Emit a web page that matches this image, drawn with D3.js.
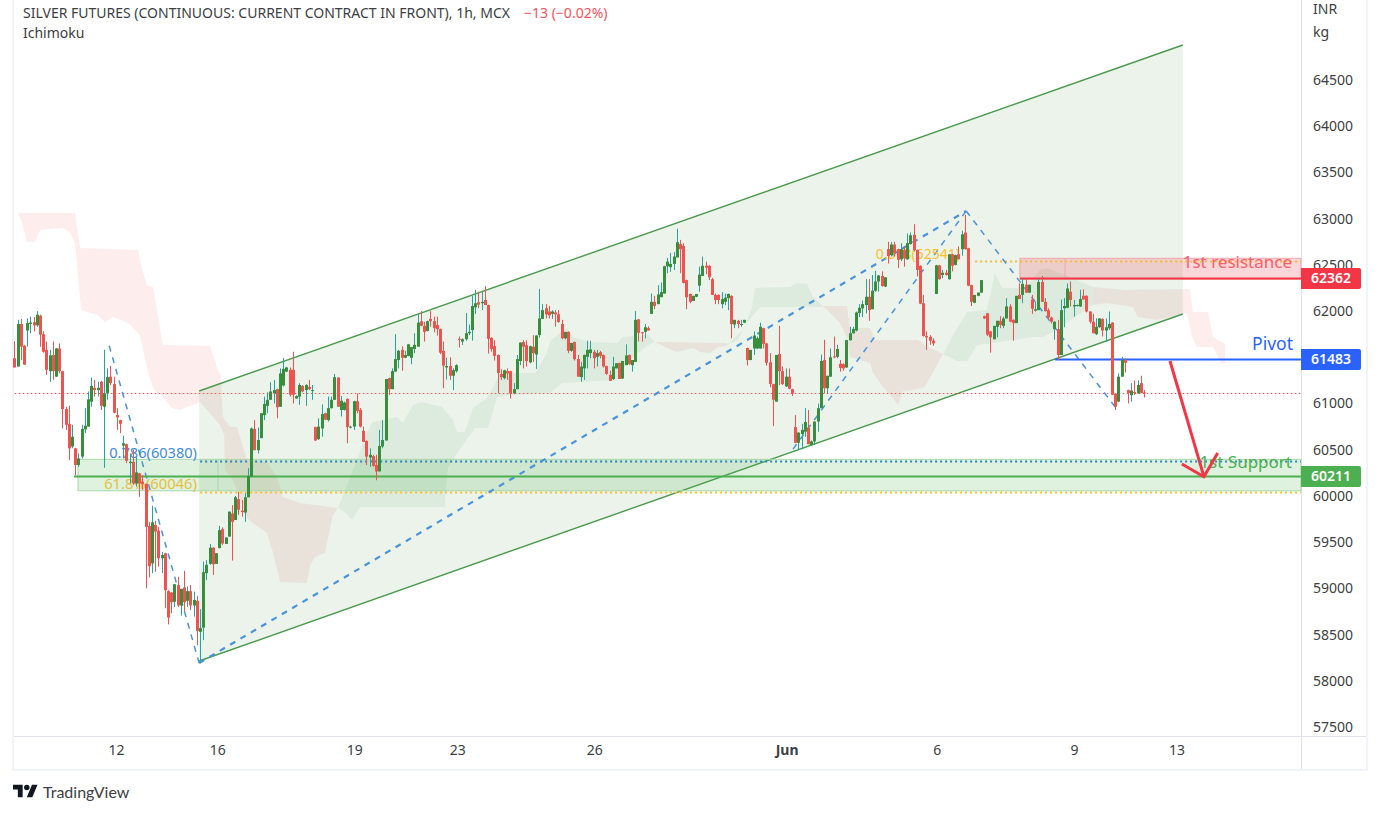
<!DOCTYPE html>
<html>
<head>
<meta charset="utf-8">
<script src="https://cdn.jsdelivr.net/npm/d3@7"></script>
<style>
  html, body { margin: 0; padding: 0; background: #fff; overflow: hidden; }
  text { font-family: "Noto Sans", sans-serif; }
</style>
</head>
<body>
<script>
// candles, [open, high, low, close]
const seg1 = [[61490,61675,61390,61390],[61400,61905,61400,61860],[61860,61915,61470,61615],[61625,61635,61420,61420],[61790,61920,61615,61870],[61860,61940,61760,61875],[61880,61935,61780,61845],[61845,62000,61830,61960],[61950,61960,61615,61745],[61750,61780,61550,61560],[61580,61670,61310,61365],[61350,61580,61235,61520],[61525,61670,61255,61350],[61290,61600,61290,61595],[61595,61650,61325,61350],[61350,61350,60730,60940],[60940,60965,60715,60770],[60780,60975,60390,60515],[60535,60770,60515,60640],[60515,60520,60225,60335],[60335,60460,60315,60405],[60425,60770,60405,60725],[60720,60950,60680,60760],[60750,61130,60750,61045],[61020,61280,60965,61190]]
const seg2 = [[61170,61255,61075,61145],[61145,61235,61075,61170],[61235,61245,60930,60975],[60965,61580,60305,61110],[61110,61380,61040,61285],[61290,61405,61200,61220],[61210,61290,60895,60900],[60875,60950,60715,60850],[60820,60825,60680,60780],[60545,60650,60405,60570],[60560,60565,60355,60380],[60355,60460,60135,60370],[60370,60500,60120,60135],[60135,60425,60100,60255],[60245,60250,59990,60135],[60155,60225,60065,60130],[60130,60135,59000,59665],[59675,59720,59120,59240],[59270,59895,59165,59715],[59685,59730,59180,59615],[59625,59665,59235,59325],[59325,59395,59165,59360],[59380,59385,58785,58980],[58970,58980,58610,58685],[58955,58960,58730,58850]]
const seg3 = [[58855,59045,58800,59045],[59035,59125,58800,58815],[58815,58995,58705,58995],[59010,59190,58750,58850],[58865,59020,58800,58970],[58970,59035,58765,58815],[58815,58965,58695,58875],[58865,58920,58385,58540],[58530,58775,58190,58570],[58575,59290,58440,59175],[59165,59305,59090,59255],[59265,59480,59255,59440],[59440,59445,59145,59260],[59265,59380,59265,59380],[59435,59675,59435,59630],[59640,59660,59470,59485],[59480,59550,59480,59550],[59560,59830,59560,59830],[59810,59900,59300,59720],[59740,60000,59740,59985],[59965,60045,59795,59850],[59840,59955,59775,59825],[59820,60030,59720,59985],[59985,60300,59985,60215],[60210,60740,60210,60730]]
const seg4 = [[60725,60820,60495,60495],[60495,60740,60460,60605],[60625,60895,60625,60895],[60875,61075,60820,60995],[60975,61120,60895,61040],[61040,61230,61040,61130],[61110,61255,61000,61145],[61155,61160,60840,60960],[60965,61380,60965,61325],[61195,61490,61185,61375],[61345,61395,61340,61390],[61365,61390,61075,61095],[61365,61560,61000,61095],[61055,61090,61050,61080],[61075,61220,60985,61200],[61190,61200,61120,61130],[61145,61210,60975,61200],[61180,61255,61145,61155],[61140,61200,61040,61145],[60745,60750,60595,60600],[60615,60840,60605,60750],[60730,60990,60640,60885],[60895,60900,60820,60825],[60820,61075,60805,60950],[60950,61075,60945,61040]]
const seg5 = [[61040,61320,61040,61285],[61280,61285,60965,60965],[60930,61080,60860,61030],[60930,61020,60925,61010],[61050,61055,60570,60745],[60745,60760,60730,60750],[60750,61030,60715,61025],[61025,61110,60895,60920],[60930,60950,60740,60750],[60705,60750,60585,60585],[60595,60600,60335,60425],[60415,60515,60315,60445],[60430,60445,60315,60325],[60335,60445,60170,60265],[60265,60715,60265,60540],[60535,60820,60515,60605],[60600,61265,60600,61265],[61275,61280,61090,61155],[61155,61380,61155,61350],[61345,61750,61345,61480],[61470,61580,61380,61570],[61580,61620,61355,61495],[61495,61570,61490,61525],[61515,61645,61510,61640],[61495,61610,61425,61610]]
const seg6 = [[61590,61760,61545,61635],[61615,61965,61615,61875],[61890,62000,61835,61840],[61840,61885,61670,61775],[61785,61895,61780,61890],[61915,62000,61830,61890],[61890,61940,61770,61815],[61850,61940,61735,61805],[61805,61810,61535,61550],[61570,61670,61165,61410],[61390,61495,61260,61405],[61405,61500,61255,61300],[61300,61380,61145,61360],[61350,61425,61335,61415],[61700,61725,61607,61695],[61670,61705,61633,61695],[61695,61980,61680,61760],[61760,61855,61740,61775],[61795,62165,61680,62055],[62040,62230,61970,62085],[62095,62210,62030,62070],[62085,62210,62010,62100],[62120,62270,62065,62065],[62065,62070,61540,61700],[61710,61715,61560,61590]]
const seg7 = [[61620,61685,61465,61515],[61525,61530,61110,61330],[61320,61370,61255,61285],[61275,61365,61260,61360],[61350,61380,61255,61325],[61350,61355,61055,61110],[61110,61220,61100,61155],[61155,61525,61155,61480],[61460,61660,61415,61660],[61665,61685,61380,61615],[61630,61685,61400,61460],[61445,61625,61435,61620],[61615,61740,61450,61545],[61530,61740,61375,61735],[61740,62240,61715,61920],[61915,62075,61915,62010],[62030,62075,61920,61965],[61995,62055,61920,61955],[61970,62010,61915,61995],[61985,62010,61830,61965],[61965,62010,61875,61880],[61860,61905,61695,61705],[61705,61775,61695,61775],[61775,61780,61545,61570],[61570,61655,61560,61655]]
const seg8 = [[61665,61670,61465,61480],[61480,61525,61290,61290],[61285,61450,61235,61400],[61380,61530,61255,61525],[61505,61680,61380,61580],[61545,61680,61490,61585],[61560,61580,61380,61490],[61505,61580,61400,61545],[61555,61570,61490,61515],[61525,61530,61390,61400],[61405,61410,61310,61320],[61310,61355,61245,61245],[61265,61505,61255,61400],[61380,61435,61380,61435],[61440,61440,61265,61265],[61270,61460,61265,61460],[61415,61640,61415,61520],[61525,61530,61420,61425],[61415,61470,61345,61470],[61450,62000,61450,61905],[61910,61915,61670,61765],[61770,61775,61670,61760],[61775,61860,61705,61825],[61815,61835,61790,61790],[61970,62190,61970,62100]]
const seg9 = [[62100,62165,62020,62055],[62075,62280,62075,62180],[62150,62310,62150,62205],[62190,62490,62190,62485],[62485,62575,62410,62535],[62475,62630,62425,62510],[62510,62640,62445,62590],[62580,62890,62580,62745],[62725,62770,62410,62670],[62705,62735,62300,62305],[62335,62340,62020,62150],[62185,62190,62085,62100],[62110,62165,62110,62165],[62155,62185,62150,62185],[62275,62480,62210,62395],[62380,62590,62380,62490],[62490,62535,62400,62470],[62490,62495,62335,62365],[62345,62360,62175,62175],[62175,62190,62075,62120],[62175,62180,62075,62120],[62075,62205,62030,62130],[62100,62190,62065,62145],[62140,62190,62010,62185],[62165,62170,61705,61860]]
const seg10 = [[61855,61905,61815,61905],[61895,61905,61815,61860],[61855,61905,61830,61860],[61875,61905,61870,61905],[61600,61605,61410,61470],[61470,61580,61470,61580],[61595,61780,61525,61735],[61595,61725,61590,61705],[61595,61875,61595,61830],[61815,61820,61595,61645],[61650,61655,61410,61440],[61445,61545,61175,61210],[61210,61215,60755,61040],[61020,61525,61020,61525],[61535,61840,61200,61350],[61350,61400,61200,61210],[61185,61380,61180,61290],[61290,61380,61155,61160],[61155,61160,61080,61110],[60745,60875,60570,60575],[60575,60690,60495,60685],[60670,60780,60505,60715],[60695,60950,60640,60800],[60740,60930,60560,60560],[60550,60600,60540,60590]]
const seg11 = [[60590,60805,60550,60805],[60805,61000,60695,60950],[60950,61530,60950,61460],[61470,61690,61110,61165],[61165,61300,61110,61300],[61290,61595,61290,61500],[61510,61725,61490,61500],[61505,61635,61490,61590],[61430,61470,61345,61385],[61425,61435,61355,61380],[61390,61690,61385,61685],[61685,61830,61680,61760],[61760,61830,61755,61805],[61790,61995,61780,61985],[61980,62075,61935,62035],[62030,62115,61935,62075],[62065,62345,61975,62155],[62155,62345,61895,62010],[62020,62390,62020,62220],[62220,62435,62210,62320],[62320,62390,62210,62385],[62380,62430,62265,62270],[62265,62365,62260,62365],[62670,62750,62515,62595],[62605,62750,62590,62720]]
const seg12 = [[62720,62750,62590,62625],[62670,62675,62465,62555],[62560,62735,62540,62670],[62660,62695,62480,62570],[62560,62840,62555,62735],[62725,62850,62720,62820],[62825,62940,62645,62660],[62660,62665,62375,62445],[62490,62495,62075,62080],[62085,62175,61725,61730],[61730,61780,61580,61715],[61720,61740,61635,61680],[61680,61705,61625,61650],[62185,62500,62185,62495],[62495,62500,62340,62345],[62390,62445,62355,62415],[62415,62445,62385,62390],[62345,62615,62340,62615],[62615,62620,62430,62490],[62500,62610,62495,62605],[62615,62700,62560,62560],[62670,62870,62600,62830],[62850,63040,62665,62670],[62680,62685,62270,62275],[62280,62285,62055,62100]]
const seg13 = [[62090,62175,62085,62175],[62165,62200,62160,62200],[62200,62335,62195,62335],[61945,61950,61915,61920],[61975,61980,61730,61745],[61780,61785,61550,61715],[61695,61840,61695,61840],[61830,61895,61715,61895],[61895,61945,61815,61850],[61840,61940,61815,61920],[61920,62140,61920,62050],[62050,62075,61880,61885],[61905,61910,61680,61870],[61870,62165,61870,62165],[62175,62300,62130,62130],[62175,62355,62085,62295],[62285,62355,62195,62200],[62200,62285,62195,62285],[62125,62175,61970,62025],[62005,62100,61995,62020],[62010,62350,62010,62315],[62315,62380,62100,62100],[62100,62140,61995,62000],[62010,62030,61905,61930],[61930,61940,61865,61885]]
const seg14 = [[61805,61890,61690,61885],[61805,61905,61470,61525],[61525,62125,61525,62010],[62030,62140,61825,62055],[62035,62300,62035,62245],[62210,62320,62050,62120],[62050,62120,61940,62065],[62055,62070,62050,62065],[62050,62230,62045,62130],[62165,62235,62125,62125],[62165,62170,61985,61995],[61995,62000,61865,61885],[61885,61970,61760,61760],[61750,61920,61740,61830],[61825,61925,61820,61920],[61915,61920,61725,61790],[61790,61920,61670,61825],[61815,61995,61795,61860],[61875,61880,61090,61095],[61105,61110,60930,60965],[61020,61325,61020,61290],[61290,61505,61290,61470],[61470,61490,61335,61440],[61145,61150,61000,61115],[61090,61220,61020,61140]]
const seg15 = [[61125,61250,61090,61115],[61110,61250,61105,61200],[61220,61300,61115,61115],[61120,61145,61065,61110]]
const candles = [].concat(seg1, seg2, seg3, seg4, seg5, seg6, seg7, seg8, seg9, seg10, seg11, seg12, seg13, seg14, seg15)

const priceTicks = [57500,58000,58500,59000,59500,60000,60500,61000,61500,62000,62500,63000,63500,64000,64500]
const dateTickBars = [31.6,63.3,106.1,138.3,181.1,241.2,288.1,331,363]
const dateTickLabels = ['12','16','19','23','26','Jun','6','9','13']

// ichimoku cloud outlines, [bar, price]
const cloudRed1 = [[1,63061],[18.8,63061],[20.4,62682],[38.5,62661],[39.8,62444],[41.3,62282],[43.2,62260],[44.4,62011],[46.3,61633],[61,61622],[63.5,61362],[64.4,61308],[65,60854],[67.3,60745],[69.4,60745],[72.6,60388],[78.8,60367],[81.9,60204],[83.8,59988],[89.1,59923],[101,59869],[99.4,59793],[96.9,59382],[93.8,59339],[92.3,59252],[91.3,59058],[82.9,59068],[80.7,59382],[78.8,59599],[74.4,59707],[72.6,59761],[68.2,60172],[65.7,60280],[65.4,60659],[64.1,60767],[62,60854],[57.9,61016],[51.6,60929],[49.1,60951],[46.3,61070],[43.5,61146],[41.6,61341],[39.1,61741],[35.4,61871],[30.7,61936],[28.2,61882],[25.7,61957],[20.7,62011],[18.8,62736],[17.3,62845],[15.1,62899],[11,62888],[7.9,62877],[6.3,62747],[3.8,62747],[2.3,62953]]
const cloudGreen1 = [[101,59869],[103.2,60064],[106.9,60388],[110,60681],[111.9,60800],[119.4,60854],[121.3,60789],[124.4,60984],[127.2,61016],[133.5,60962],[136.9,60821],[138.2,60691],[140.7,60691],[143.2,60951],[147.6,61059],[150.7,61254],[152.6,61330],[162.6,61330],[166.3,61546],[167.3,61676],[172.6,61817],[174.4,61719],[179.1,61665],[188.2,61654],[190.1,61719],[197.9,61741],[200,61665],[197.9,61633],[191.3,61449],[188.2,61254],[171,61222],[167.3,61113],[154.1,61092],[150.7,61070],[147.9,60735],[143.8,60735],[138.2,60464],[135.4,60313],[134.4,59956],[134.4,59880],[107.9,59880],[105.4,59739],[103.2,59826]]
const cloudRed2 = [[200,61665],[222.6,61654],[222.6,61622],[219.8,61611],[217.3,61546],[214.1,61557],[211.9,61600],[206.9,61557],[203.8,61600]]
const cloudGreen2 = [[222.6,61633],[227.6,61795],[230.4,62033],[231.3,62249],[242.3,62260],[244.4,62304],[247.6,62293],[249.1,62174],[252.6,62044],[232.9,62044],[228.2,61849],[226,61687]]
const cloudRed3 = [[252.6,62055],[260.1,62055],[260.4,61957],[261,61817],[267.3,61817],[268.8,61687],[282.3,61687],[284.4,61633],[290.1,61535],[287,61341],[284.4,61178],[280.7,61146],[277.6,61135],[276,60984],[274.1,61070],[271.3,61178],[268.2,61330],[267.3,61438],[261,61503],[260.4,61687],[257.9,61871]]
const cloudGreen3 = [[290.1,61535],[293.8,61773],[297.6,61990],[303.8,62011],[306.3,62412],[308.5,62249],[315.7,62249],[320.4,62444],[322.6,62466],[328.2,62390],[336.9,62260],[336.9,62065],[325.1,61795],[321.3,61719],[318.2,61719],[300.7,61633],[297.6,61460],[294.4,61460]]
const cloudRed4 = [[336.9,62260],[346.9,62228],[367.2,62239],[368.2,61990],[372.9,61990],[374.4,61719],[378.2,61644],[378.2,61438],[377.2,61427],[374.4,61611],[369.4,61611],[367.9,61719],[366.3,61979],[356.9,61903],[351,61936],[349.4,62044],[341.3,62087],[336.9,62065]]

// drawings on the chart, [bar, price]
const channelUpper = [[57.6,61135],[365,64879]]
const channelLower = [[57.6,58214],[365,61968]]
const fibSwings = [
  [[29.5,61625],[57.6,58192]],
  [[57.6,58192],[297.3,63083]],
  [[243.2,60507],[297.3,63083]],
  [[297.3,63083],[343.8,60965]]
]
const axisRightBar = 401.9
const lastPrice = 61110
const pivotLevel = 61483
const resistanceLevel = 62362
const supportLevel = 60211
const fibBlueLevel = 60380
const fibGoldLevel = 60046
const fibTopLevel = 62541
const supportBox = [19.75,63.5,60396,60056]
const resistanceBox = [314.1,328.2,62571,62344]
const arrowShaft = [[361,61460],[371.6,60208]]
const arrowHead = [[364.7,60345],[371.6,60208],[375.9,60464]]

const W = 1379, H = 814
const axisX = 1301, plotBottom = 736, frameBottom = 769, frameRight = 1366

const x = d3.scaleLinear().domain([0, candles.length - 1]).range([14.8, 14.8 + 3.2 * (candles.length - 1)])
const y = d3.scaleLinear().domain([57500, 64500]).range([727, 80])
const line = d3.line().x(d => x(d[0])).y(d => y(d[1]))

const svg = d3.select('body').append('svg').attr('width', W).attr('height', H).style('display', 'block')

// frame
const frame = svg.append('g').attr('fill', 'none')
frame.append('path').attr('d', `M13 0V${frameBottom + 1}H${frameRight + 1}V0`).attr('stroke', '#f0f3fa').attr('stroke-width', 2)
frame.append('path').attr('d', `M14 ${plotBottom}.5H${frameRight}`).attr('stroke', '#e0e3eb')
frame.append('path').attr('d', `M${axisX}.5 0V${frameBottom}`).attr('stroke', '#e0e3eb')

const plot = svg.append('g')

// clouds
const clouds = [[cloudRed1, 1], [cloudGreen1, 0], [cloudRed2, 1], [cloudGreen2, 0], [cloudRed3, 1], [cloudGreen3, 0], [cloudRed4, 1]]
plot.selectAll('path.cloud').data(clouds).enter().append('path')
  .attr('class', 'cloud')
  .attr('d', d => line(d[0]) + 'Z')
  .attr('fill', d => d[1] ? 'rgba(239,83,80,0.1)' : 'rgba(56,142,60,0.08)')

// channel
plot.append('path')
  .attr('d', line([channelUpper[0], channelUpper[1], channelLower[1], channelLower[0]]) + 'Z')
  .attr('fill', 'rgba(56,142,60,0.1)')
plot.selectAll('path.chan').data([channelUpper, channelLower]).enter().append('path')
  .attr('class', 'chan')
  .attr('d', line)
  .attr('fill', 'none').attr('stroke', '#4a9a4e').attr('stroke-width', 1.4)

// boxes
plot.append('rect')
  .attr('x', x(supportBox[0])).attr('y', y(supportBox[2]))
  .attr('width', x(axisRightBar) - x(supportBox[0])).attr('height', y(supportBox[3]) - y(supportBox[2]))
  .attr('fill', 'rgba(76,175,80,0.18)').attr('stroke', '#a9d8ab')
plot.append('line')
  .attr('x1', x(supportBox[1])).attr('x2', x(supportBox[1])).attr('y1', y(supportBox[2])).attr('y2', y(supportBox[3]))
  .attr('stroke', '#a9d8ab')
plot.append('rect')
  .attr('x', x(resistanceBox[0])).attr('y', y(resistanceBox[2]))
  .attr('width', x(axisRightBar) - x(resistanceBox[0])).attr('height', y(resistanceBox[3]) - y(resistanceBox[2]))
  .attr('fill', 'rgba(242,54,69,0.2)').attr('stroke', '#f5a6ab')
plot.append('line')
  .attr('x1', x(resistanceBox[1])).attr('x2', x(resistanceBox[1])).attr('y1', y(resistanceBox[2])).attr('y2', y(resistanceBox[3]))
  .attr('stroke', '#f5a6ab')

// last price and fib levels
const hline = (bar, level, color, width, dash) => plot.append('line')
  .attr('x1', x(bar)).attr('x2', x(axisRightBar))
  .attr('y1', Math.round(y(level)) + 0.5).attr('y2', Math.round(y(level)) + 0.5)
  .attr('stroke', color).attr('stroke-width', width).attr('stroke-dasharray', dash)
hline(0, lastPrice, '#ef5350', 1, '1.5 2.5')
hline(57.9, fibBlueLevel, '#2e86c1', 2, '2 3')
hline(57.9, fibGoldLevel, '#f9c22e', 2, '2 3')
hline(300.1, fibTopLevel, '#f9b93a', 2, '2 3')

// fib swings
plot.selectAll('path.swing').data(fibSwings).enter().append('path')
  .attr('class', 'swing')
  .attr('d', line)
  .attr('fill', 'none').attr('stroke', '#4a93db')
  .attr('stroke-width', (d, i) => i === 1 ? 2.2 : 1.5).attr('stroke-dasharray', '6 6')

// level lines
hline(18.5, supportLevel, '#4caf50', 2)
hline(325.1, pivotLevel, '#2962ff', 2)
hline(314.1, resistanceLevel, '#f23645', 2)

// drawing labels
const note = (px, py, txt, color, size) => plot.append('text')
  .attr('x', px).attr('y', py).attr('text-anchor', 'end')
  .attr('fill', color).attr('font-size', size).text(txt)
note(197, 458, '0.786(60380)', '#3d8bdc', 14.6)
note(197, 489, '61.8%(60046)', '#e2c23a', 14.8)
note(960, 259, '0.618(62541)', '#fbc02d', 14)
note(1292, 268, '1st resistance', '#f4606c', 17)
note(1293, 350, 'Pivot', '#2962ff', 17.5)
note(1292, 468, '1st Support', '#4caf50', 17)

// candles
const bars = svg.append('g').selectAll('g').data(candles).enter().append('g')
  .attr('transform', (d, i) => `translate(${Math.floor(x(i))},0)`)
bars.append('rect')
  .attr('x', 0).attr('width', 1)
  .attr('y', d => y(d[1])).attr('height', d => y(d[2]) - y(d[1]))
  .attr('fill', d => d[3] >= d[0] ? '#26a69a' : '#ef5350')
bars.append('rect')
  .attr('x', -1).attr('width', 3)
  .attr('y', d => y(Math.max(d[0], d[3])))
  .attr('height', d => Math.max(1, Math.abs(y(d[0]) - y(d[3]))))
  .attr('fill', d => d[3] >= d[0] ? '#388e3c' : '#ef5350')

// red arrow
svg.selectAll('path.arrow').data([arrowShaft, arrowHead]).enter().append('path')
  .attr('class', 'arrow')
  .attr('d', line)
  .attr('fill', 'none').attr('stroke', '#f23645').attr('stroke-width', 3)

// axes
const yAxis = d3.axisRight(y).tickValues(priceTicks).tickSize(0).tickPadding(0).tickFormat(d3.format('d'))
svg.append('g').attr('transform', 'translate(1313,0)').call(yAxis)
  .call(g => g.select('.domain').remove())
  .selectAll('text').attr('font-size', 14).attr('fill', '#3c4043').style('font-family', '"Noto Sans", sans-serif')

const xAxis = d3.axisBottom(x).tickValues(dateTickBars).tickSize(0).tickPadding(0)
  .tickFormat((d, i) => dateTickLabels[i])
svg.append('g').attr('transform', 'translate(0,745)').call(xAxis)
  .call(g => g.select('.domain').remove())
  .selectAll('text').attr('font-size', 14).attr('fill', '#3c4043').style('font-family', '"Noto Sans", sans-serif')
  .attr('font-weight', (d, i) => dateTickLabels[i] === 'Jun' ? 'bold' : 'normal')

const head = svg.append('g').attr('font-size', 14).attr('fill', '#3c4043')
head.append('text').attr('x', 1313).attr('y', 14).text('INR')
head.append('text').attr('x', 1313).attr('y', 37).text('kg')
head.append('text').attr('x', 23).attr('y', 18).text('SILVER FUTURES (CONTINUOUS: CURRENT CONTRACT IN FRONT), 1h, MCX')
head.append('text').attr('x', 524).attr('y', 18).attr('fill', '#f7525f').text('\u221213 (\u22120.02%)')
head.append('text').attr('x', 23).attr('y', 38).text('Ichimoku')

// price tags
const tags = [[resistanceLevel, '#f23645'], [pivotLevel, '#2962ff'], [supportLevel, '#4caf50']]
const tag = svg.selectAll('g.tag').data(tags).enter().append('g').attr('class', 'tag')
tag.append('path')
  .attr('d', d => {
    const c = Math.round(y(d[0]))
    return `M1301 ${c - 10}H1359a2 2 0 0 1 2 2V${c + 9}a2 2 0 0 1 -2 2H1301Z`
  })
  .attr('fill', d => d[1])
tag.append('text')
  .attr('x', 1331).attr('y', d => y(d[0]) + 5).attr('text-anchor', 'middle')
  .attr('fill', '#fff').attr('font-size', 14).attr('font-weight', 600)
  .text(d => d[0])

// logo
svg.append('path').attr('transform', 'translate(13,782) scale(0.69)')
  .attr('d', 'M14 22H7V11H0V4h14v18zM28 22h-8l7.5-18h8L28 22z').attr('fill', '#131722')
svg.append('circle').attr('transform', 'translate(13,782) scale(0.69)')
  .attr('cx', 20).attr('cy', 8).attr('r', 4).attr('fill', '#131722')
svg.append('text').attr('x', 43).attr('y', 798).attr('font-size', 16).attr('fill', '#3c4043')
  .style('font-family', 'Lato, sans-serif').text('TradingView')
</script>
</body>
</html>
